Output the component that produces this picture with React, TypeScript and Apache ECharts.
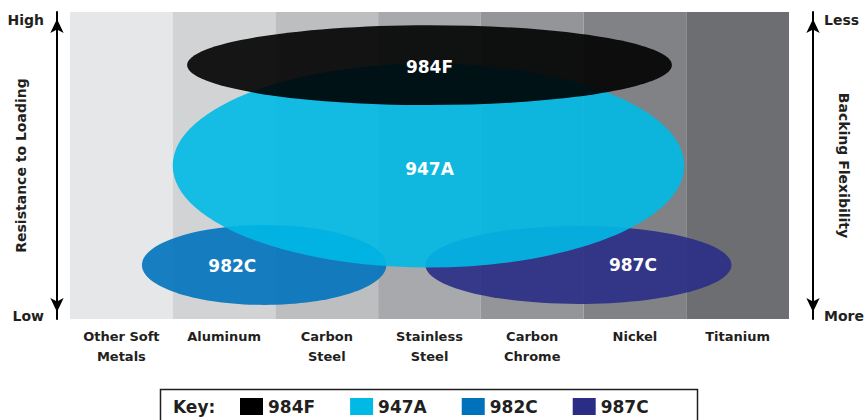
import React, { useEffect, useRef } from "react";
import * as echarts from "echarts";

// ---- data ----
const columns = [
  "Other Soft\nMetals",
  "Aluminum",
  "Carbon\nSteel",
  "Stainless\nSteel",
  "Carbon\nChrome",
  "Nickel",
  "Titanium",
];
const columnShades = ["#e6e7e8", "#d1d3d4", "#bcbec0", "#a7a9ac", "#939598", "#808285", "#6d6e71"];

const products = ["984F", "947A", "982C", "987C"];
const productColors = ["#000000", "#00b9e5", "#0072bc", "#2a2c86"];
// drawing order (bottom to top)
const drawOrder = ["982C", "987C", "947A", "984F"];
// ellipse centre / radii in axis units (x: 0..7 columns, y: 0..100 scale)
const centerX = [3.5, 3.49, 1.89, 4.95];
const centerY = [82.7, 50, 17.6, 17.6];
const radiusX = [2.36, 2.49, 1.19, 1.49];
const radiusY = [13, 33.2, 13, 12.7];
const labelX = [3.5, 3.5, 1.58, 5.48];
const labelY = [82.2, 49, 17.3, 17.6];

const yMin = 0;
const yMax = 100;
const leftTicks = { [yMin]: "Low", [yMax]: "High" } as Record<number, string>;
const rightTicks = { [yMin]: "More", [yMax]: "Less" } as Record<number, string>;

const FONT = "DejaVu Sans";
const INK = "#231f20";

export default function App() {
  const ref = useRef<HTMLDivElement>(null);

  useEffect(() => {
    document.body.style.margin = "0";
    const chart = echarts.init(ref.current!, null, { renderer: "svg" });

    const columnSeries = {
      type: "custom",
      name: "columns",
      xAxisIndex: 1,
      yAxisIndex: 0,
      silent: true,
      data: columns.map((_, i) => [i, yMin]),
      renderItem: (params: any, api: any) => {
        const i = api.value(0);
        const p0 = api.coord([i, yMax]);
        const p1 = api.coord([i + 1, yMin]);
        return {
          type: "rect",
          shape: { x: p0[0], y: p0[1], width: p1[0] - p0[0], height: p1[1] - p0[1] },
          style: { fill: columnShades[i] },
        };
      },
    };

    const ellipseSeries = drawOrder.map((name) => {
      const k = products.indexOf(name);
      const color = productColors[k];
      return {
        type: "custom",
        name,
        xAxisIndex: 1,
        yAxisIndex: 0,
        itemStyle: { color },
        data: [[centerX[k], centerY[k], radiusX[k], radiusY[k], labelX[k], labelY[k]]],
        renderItem: (params: any, api: any) => {
          const c = api.coord([api.value(0), api.value(1)]);
          const s = api.size([api.value(2), api.value(3)]);
          const l = api.coord([api.value(4), api.value(5)]);
          return {
            type: "group",
            children: [
              {
                type: "ellipse",
                shape: { cx: c[0], cy: c[1], rx: s[0], ry: s[1] },
                style: { fill: color, opacity: 0.9 },
              },
              {
                type: "text",
                x: l[0],
                y: l[1],
                style: {
                  text: name,
                  fill: "#ffffff",
                  font: `bold 17px "${FONT}"`,
                  align: "center",
                  verticalAlign: "middle",
                },
              },
            ],
          };
        },
      };
    });

    const makeAxisLine = () => ({
      show: true,
      onZero: false,
      symbol: ["arrow", "arrow"],
      symbolSize: [10, 14],
      symbolOffset: [7, -7],
      lineStyle: { color: "#000", width: 2 },
    });
    const makeRich = () => ({
      h: { fontFamily: FONT, fontWeight: "bold", fontSize: 14, color: INK, padding: [16, 0, 0, 0] },
      l: { fontFamily: FONT, fontWeight: "bold", fontSize: 14, color: INK, padding: [0, 0, 6, 0] },
    });

    const option: any = {
      animation: false,
      textStyle: { fontFamily: FONT },
      grid: { left: 70, right: 77, top: 12, bottom: 101, outerBoundsMode: "none", containLabel: false },
      xAxis: [
        {
          type: "category",
          data: columns,
          position: "bottom",
          axisLine: { show: false },
          axisTick: { show: false },
          axisLabel: {
            interval: 0,
            margin: 7,
            fontFamily: FONT,
            fontWeight: "bold",
            fontSize: 13,
            lineHeight: 20,
            color: INK,
          },
        },
        {
          type: "value",
          min: 0,
          max: columns.length,
          show: false,
        },
      ],
      yAxis: [
        {
          type: "value",
          position: "left",
          min: yMin,
          max: yMax,
          interval: yMax - yMin,
          offset: 13,
          splitLine: { show: false },
          axisTick: { show: false },
          axisLine: makeAxisLine(),
          axisLabel: {
            margin: 13,
            formatter: (v: number) => (v === yMax ? `{h|${leftTicks[v]}}` : `{l|${leftTicks[v]}}`),
            rich: makeRich(),
          },
          name: "Resistance to Loading",
          nameLocation: "middle",
          nameGap: 29,
          nameMoveOverlap: false,
          nameTextStyle: { fontFamily: FONT, fontWeight: "bold", fontSize: 14, color: INK },
        },
        {
          type: "value",
          position: "right",
          min: yMin,
          max: yMax,
          interval: yMax - yMin,
          offset: 24,
          splitLine: { show: false },
          axisTick: { show: false },
          axisLine: makeAxisLine(),
          axisLabel: {
            margin: 11,
            formatter: (v: number) => (v === yMax ? `{h|${rightTicks[v]}}` : `{l|${rightTicks[v]}}`),
            rich: makeRich(),
          },
          name: "Backing Flexibility",
          nameLocation: "middle",
          nameRotate: -90,
          nameGap: 24,
          nameMoveOverlap: false,
          nameTextStyle: { fontFamily: FONT, fontWeight: "bold", fontSize: 14, color: INK },
        },
      ],
      legend: {
        data: products,
        left: 240,
        top: 398,
        padding: 0,
        icon: "rect",
        itemWidth: 23,
        itemHeight: 17,
        itemGap: 35,
        selectedMode: false,
        textStyle: { fontFamily: FONT, fontWeight: "bold", fontSize: 17, color: INK },
      },
      graphic: [
        {
          type: "rect",
          left: 158,
          top: 387,
          shape: { width: 537, height: 50 },
          style: { fill: "none", stroke: INK, lineWidth: 1.5 },
          silent: true,
        },
        {
          type: "text",
          left: 173,
          top: 398,
          style: { text: "Key:", fill: INK, font: `bold 17px "${FONT}"` },
        },
      ],
      series: [columnSeries, ...ellipseSeries],
    };

    chart.setOption(option);
    return () => chart.dispose();
  }, []);

  return <div ref={ref} style={{ width: 866, height: 420 }} />;
}
